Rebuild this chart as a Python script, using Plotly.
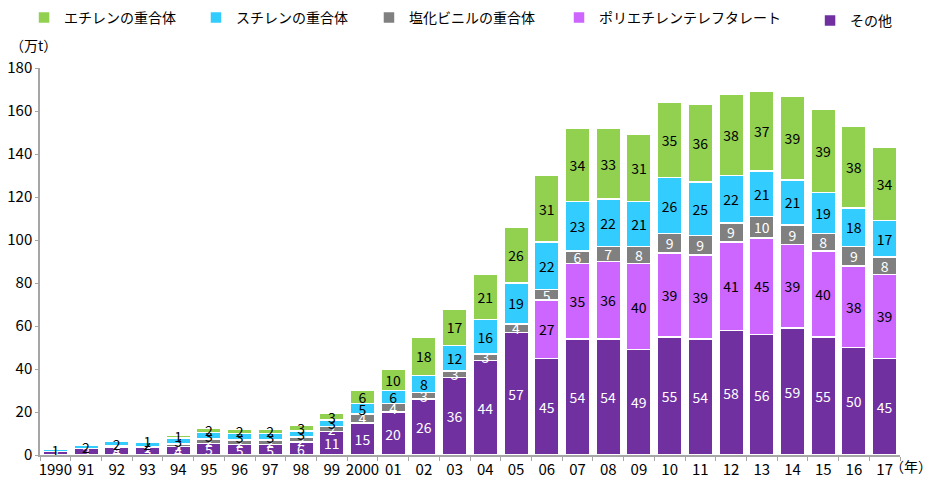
import plotly.graph_objects as go

years = ["1990", "91", "92", "93", "94", "95", "96", "97", "98", "99",
         "2000", "01", "02", "03", "04", "05", "06", "07", "08", "09",
         "10", "11", "12", "13", "14", "15", "16", "17"]

other = [1.7, 3.0, 3.8, 3.4, 3.9, 5.4, 5.0, 5.0, 6.0, 11, 15, 20, 26, 36, 44, 57, 45, 54, 54, 49,
         55, 54, 58, 56, 59, 55, 50, 45]
pet = [None] * 16 + [27, 35, 36, 40, 39, 39, 41, 45, 39, 40, 38, 39]
pvc = [None, None, 0.4, 0.6, 1.3, 2.0, 2.0, 2.0, 2.4, 2.2, 4, 4, 3, 3, 3, 4, 5, 6, 7, 8,
       9, 9, 9, 10, 9, 8, 9, 8]
styrene = [1.2, 1.6, 2.0, 2.0, 2.8, 3.0, 3.0, 3.0, 2.8, 3.0, 5, 6, 8, 12, 16, 19, 22, 23, 22, 21,
           26, 25, 22, 21, 21, 19, 18, 17]
ethylene = [None, None, None, 0.6, 1.3, 2.0, 2.0, 2.0, 2.8, 3.0, 6, 10, 18, 17, 21, 26, 31, 34, 33, 31,
            35, 36, 38, 37, 39, 39, 38, 34]

series = [
    ("その他", other, "#7030A0", "white", "legend5"),
    ("ポリエチレンテレフタレート", pet, "#CC66FF", "black", "legend4"),
    ("塩化ビニルの重合体", pvc, "#808080", "white", "legend3"),
    ("スチレンの重合体", styrene, "#33CCFF", "black", "legend2"),
    ("エチレンの重合体", ethylene, "#92D050", "black", "legend"),
]

cjk = "Noto Sans CJK JP"
narrow = "Liberation Sans Narrow, Noto Sans CJK JP"
fig = go.Figure()
for name, vals, color, tcolor, lg in series:
    fig.add_trace(go.Bar(
        x=years, y=vals, name=name, legend=lg,
        marker=dict(color=color, line=dict(color="white", width=1.5)),
        texttemplate="%{y:.0f}", textposition="inside", insidetextanchor="middle",
        textangle=0, insidetextfont=dict(color=tcolor, size=14, family=narrow),
        hoverinfo="skip",
    ))

def leg(x, y=0.9792):
    return dict(orientation="h", x=x, xanchor="left", xref="container",
                y=y, yanchor="middle", yref="container",
                font=dict(size=14, family=cjk), itemwidth=30, bgcolor="rgba(0,0,0,0)")

fig.update_layout(
    barmode="stack", bargap=0.2,
    width=927, height=481,
    margin=dict(l=32, r=35, t=60, b=34, autoexpand=False),
    plot_bgcolor="white", paper_bgcolor="white",
    font=dict(family=cjk, size=14, color="black"),
    uniformtext=dict(minsize=14, mode="show"),
    showlegend=True,
    legend=leg(0.0173),
    legend2=leg(0.2028),
    legend3=leg(0.3894),
    legend4=leg(0.5944),
    legend5=leg(0.8652, 0.973),
    xaxis=dict(type="category", range=[-0.5, 27.5], showline=True, linecolor="#A6A6A6",
               linewidth=1.5, ticks="outside", tickson="boundaries", ticklen=4,
               tickcolor="#A6A6A6", tickfont=dict(size=15, family=narrow), tickangle=0,
               showgrid=False, automargin=False),
    yaxis=dict(range=[0, 180], dtick=20, showline=True, linecolor="#A6A6A6", linewidth=1.5,
               ticks="outside", ticklen=3, tickcolor="#A6A6A6", showgrid=False,
               zeroline=False, tickfont=dict(size=15, family=narrow), automargin=False),
    annotations=[
        dict(text="（万t）", xref="paper", yref="paper", x=-0.0372, y=1.059, xanchor="left",
             yanchor="middle", showarrow=False, font=dict(size=14)),
        dict(text="（年）", xref="paper", yref="paper", x=1.04, y=-0.028, xanchor="right",
             yanchor="middle", showarrow=False, font=dict(size=14)),
    ],
)
fig.write_html("out.html")
